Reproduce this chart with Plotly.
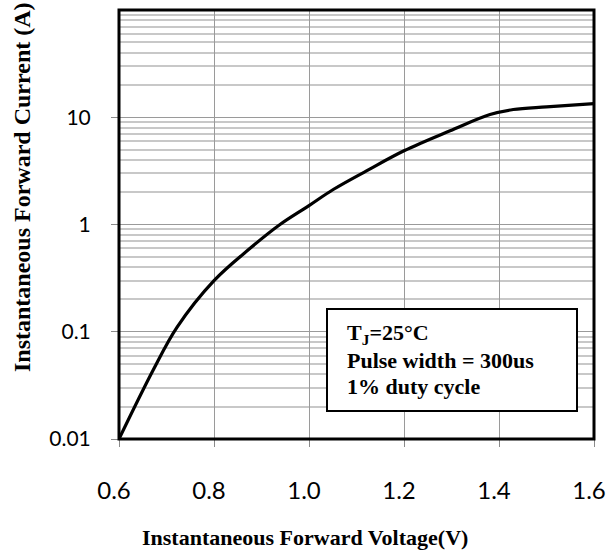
import plotly.graph_objects as go

voltage = [0.6, 0.672, 0.722, 0.8, 0.876, 0.939, 1.0, 1.051, 1.122, 1.2, 1.297, 1.381, 1.43, 1.5, 1.6]
current = [0.01, 0.044, 0.11, 0.30, 0.60, 1.0, 1.50, 2.12, 3.18, 4.87, 7.48, 10.6, 11.8, 12.5, 13.4]

x_ticks = [0.6, 0.8, 1.0, 1.2, 1.4, 1.6]
x_ticktext = ["0.6", "0.8", "1.0", "1.2", "1.4", "1.6"]
y_ticks = [0.01, 0.1, 1, 10]
y_ticktext = ["0.01", "0.1", "1", "10"]
y_minor = [k * 10 ** e for e in range(-2, 2) for k in range(2, 10)]

note_lines = ["T<sub>J</sub>=25°C", "Pulse width = 300us", "1% duty cycle"]

W, H = 608, 554
L, R, T, B = 119, 14, 10, 115
pw, ph = W - L - R, H - T - B

def px(x):
    return (x - L) / pw

def py(y):
    return (H - B - y) / ph

fig = go.Figure()
fig.add_trace(go.Scatter(
    x=voltage, y=current, mode="lines",
    line=dict(color="black", width=3.2, shape="spline", smoothing=1.0),
    showlegend=False, hoverinfo="skip",
))

note_y = [334, 360, 386]
annotations = [
    dict(text=t, xref="paper", yref="paper",
         x=px(345), y=py(yy), xanchor="left", yanchor="middle", align="left",
         showarrow=False,
         font=dict(family="Liberation Serif", size=22, color="black", weight="bold"))
    for t, yy in zip(note_lines, note_y)
]
annotations += [
    dict(text="<b>Instantaneous Forward Voltage(V)</b>", xref="paper", yref="paper",
         x=px(305), y=py(537), xanchor="center", yanchor="middle", showarrow=False,
         font=dict(family="Liberation Serif", size=22, color="black")),
    dict(text="<b>Instantaneous Forward Current (A)</b>", xref="paper", yref="paper",
         x=px(22), y=py(187), xanchor="center", yanchor="middle", showarrow=False,
         textangle=-90,
         font=dict(family="Liberation Serif", size=24, color="black")),
]

fig.update_layout(
    width=W, height=H,
    margin=dict(l=L, r=R, t=T, b=B, autoexpand=False),
    paper_bgcolor="white", plot_bgcolor="white",
    xaxis=dict(
        range=[0.6, 1.6], tickvals=x_ticks, ticktext=x_ticktext,
        showgrid=True, gridcolor="#9a9a9a", gridwidth=1.3,
        ticks="outside", ticklen=7, tickcolor="#8a8a8a", tickwidth=1.3,
        tickfont=dict(family="Lato", size=24, color="black"),
        ticklabelstandoff=23, ticklabelshift=-5, ticklabeloverflow="allow", automargin=False,
        showline=False, zeroline=False,
    ),
    yaxis=dict(
        type="log", range=[-2, 2], tickvals=y_ticks, ticktext=y_ticktext,
        showgrid=True, gridcolor="#9a9a9a", gridwidth=1.3,
        minor=dict(tickvals=y_minor, showgrid=True, gridcolor="#c8c8c8", gridwidth=1.5, ticks=""),
        ticks="outside", ticklen=7, tickcolor="#8a8a8a", tickwidth=1.3,
        tickfont=dict(family="Lato", size=21, color="black"),
        ticklabelstandoff=16, ticklabeloverflow="allow", automargin=False,
        showline=False, zeroline=False,
    ),
    shapes=[
        dict(type="rect", xref="paper", yref="paper", x0=0, x1=1, y0=0, y1=1,
             line=dict(color="black", width=3), layer="above"),
        dict(type="rect", xref="paper", yref="paper",
             x0=px(327), x1=px(577), y0=py(411), y1=py(309),
             line=dict(color="black", width=2), fillcolor="white", layer="above"),
    ],
    annotations=annotations,
)

fig.write_html("out.html", config={"displayModeBar": False},
               post_script="document.body.style.margin='0';document.body.style.padding='0';")
